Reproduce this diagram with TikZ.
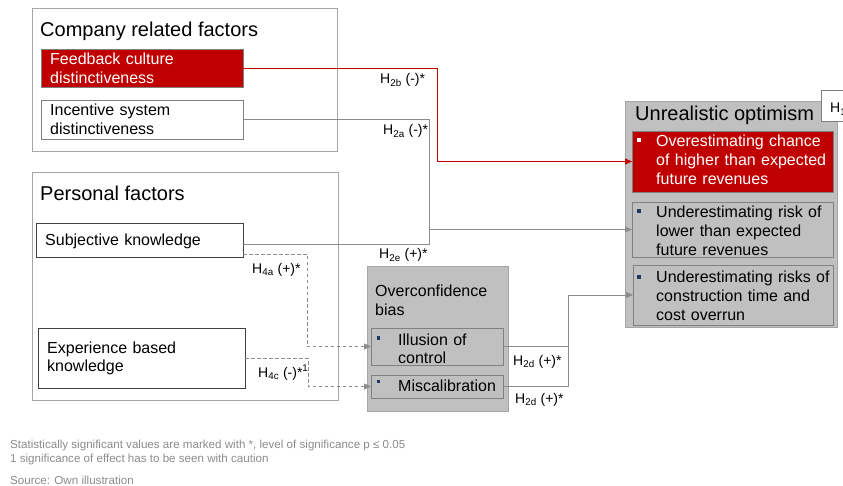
\documentclass[tikz,border=0pt]{standalone}
\usepackage{fontspec}
\setmainfont{Liberation Sans}
\usetikzlibrary{arrows.meta,calc}
\definecolor{redA}{HTML}{C00000}
\definecolor{gfill}{HTML}{C0C0C0}
\definecolor{gline}{HTML}{A6A6A6}
\definecolor{dline}{HTML}{808080}
\definecolor{kline}{HTML}{404040}
\definecolor{cline}{HTML}{8C8C8C}
\definecolor{navyA}{HTML}{1F3864}
\definecolor{ftxt}{HTML}{8C8C8C}
\begin{document}
\begin{tikzpicture}[x=1pt,y=-1pt,
  box/.style={anchor=north west, inner sep=0pt, outer sep=0pt},
  grp/.style={box, draw=gline, line width=0.9pt, fill=white},
  redbox/.style={box, draw=dline, line width=0.8pt, fill=redA},
  whbox/.style={box, draw=dline, line width=0.8pt, fill=white},
  kbox/.style={box, draw=kline, line width=0.9pt, fill=white},
  gbox/.style={box, draw=gline, line width=0.9pt, fill=gfill},
  subbox/.style={box, draw=dline, line width=0.8pt, fill=gfill},
  title/.style={anchor=base west, inner sep=0pt, font=\fontsize{20}{24}\selectfont},
  txt/.style={anchor=base west, inner sep=0pt, align=left, text width=200pt, font=\fontsize{16}{18.8}\selectfont},
  lab/.style={anchor=base west, inner sep=0pt, font=\fontsize{14}{16}\selectfont},
  foot/.style={anchor=base west, inner sep=0pt, text=ftxt, font=\fontsize{11.6}{13}\selectfont},
  conn/.style={draw=cline, line width=0.8pt, -{Triangle[length=7pt,width=6pt]}},
  plain/.style={draw=cline, line width=0.8pt},
  redconn/.style={draw=redA, line width=0.8pt, -{Triangle[length=7pt,width=6pt]}},
  dconn/.style={draw=cline, line width=0.8pt, dash pattern=on 3.5pt off 2.5pt, -{Triangle[length=7pt,width=6pt]}}
]
\useasboundingbox (0,0) rectangle (843,486);
\fill[white] (0,0) rectangle (843,486);

% Company related factors
\node[grp, minimum width=305pt, minimum height=143pt] (comp) at (32,8) {};
\node[title] (compt) at (40,37) {Company related factors};
\node[redbox, minimum width=202pt, minimum height=38pt] (fb) at (41,49) {};
\node[txt, text=white] (fbt) at (50,65) {Feedback culture\\distinctiveness};
\node[whbox, minimum width=202pt, minimum height=39pt] (inc) at (41,100) {};
\node[txt] (inct) at (50,115.5) {Incentive system\\distinctiveness};

% Personal factors
\node[grp, minimum width=306pt, minimum height=228pt] (pers) at (32,172) {};
\node[title] (perst) at (40,201) {Personal factors};
\node[kbox, minimum width=207pt, minimum height=34pt] (subj) at (36,223) {};
\node[txt] (subjt) at (45,246) {Subjective knowledge};
\node[kbox, minimum width=207pt, minimum height=60pt] (exp) at (38,328) {};
\node[txt] (expt) at (47,353) {Experience based\\knowledge};

% Overconfidence bias
\node[gbox, minimum width=141pt, minimum height=145pt] (oc) at (367,266) {};
\node[txt] (oct) at (375,297) {Overconfidence\\bias};
\node[subbox, minimum width=132pt, minimum height=37pt] (ill) at (371,328) {};
\fill[navyA] (376.5,336) rectangle ++(3.5,3.5);
\node[txt] (illt) at (398,345) {Illusion of\\control};
\node[subbox, minimum width=132pt, minimum height=23pt] (mis) at (371,375) {};
\fill[navyA] (376.5,379.5) rectangle ++(3.5,3.5);
\node[txt] (mist) at (398,391) {Miscalibration};

% Unrealistic optimism
\node[gbox, minimum width=212pt, minimum height=226pt] (uo) at (625,101) {};
\node[title] (uot) at (635,121) {Unrealistic optimism};
\node[redbox, minimum width=201pt, minimum height=61pt] (o1) at (632,131) {};
\fill[white] (637,138.5) rectangle ++(3.5,3.5);
\node[txt, text=white] (o1t) at (656,147) {Overestimating chance\\of higher than expected\\future revenues};
\node[subbox, minimum width=201pt, minimum height=55pt] (o2) at (632,202) {};
\fill[navyA] (637,209.5) rectangle ++(3.5,3.5);
\node[txt] (o2t) at (656,218) {Underestimating risk of\\lower than expected\\future revenues};
\node[subbox, minimum width=200pt, minimum height=60pt] (o3) at (633,265) {};
\fill[navyA] (637,275.5) rectangle ++(3.5,3.5);
\node[txt] (o3t) at (656,283) {Underestimating risks of\\construction time and\\cost overrun};

% partially visible label box at the right edge
\begin{scope}
\clip (0,0) rectangle (843,486);
\node[whbox, minimum width=30pt, minimum height=31pt] (hbox) at (821,90) {};
\node[lab] (hboxt) at (830,113) {H\textsubscript{1}};
\end{scope}

% connectors
\coordinate (jr) at (437,68);
\draw[redconn] (fb.east) -- (jr) |- (o1.west);
\coordinate (ja) at (429,229.5);
\draw[plain] (inc.east) -| (ja);
\draw[conn] ($(subj.east)+(0,4)$) -| (ja) -- (o2.west);
\coordinate (jd) at (568,295);
\draw[plain] (ill.east) -- (ill.east -| jd);
\draw[conn] (mis.east) -| (jd) -- (o3.west);
\coordinate (j4a) at (307,254);
\draw[dconn] ($(subj.south east)+(0,-3)$) -- (j4a) |- (ill.west);
\coordinate (j4c) at (308,358);
\draw[dconn] (exp.east) -- (j4c) |- (mis.west);

% labels
\node[lab] (l2b) at (380,84) {H\textsubscript{2b} (-)*};
\node[lab] (l2a) at (383,135) {H\textsubscript{2a} (-)*};
\node[lab] (l2e) at (379,259) {H\textsubscript{2e} (+)*};
\node[lab] (l4a) at (252,273) {H\textsubscript{4a} (+)*};
\node[lab] (l4c) at (258,377) {H\textsubscript{4c} (-)*\textsuperscript{1}};
\node[lab] (l2d1) at (513,365) {H\textsubscript{2d} (+)*};
\node[lab] (l2d2) at (515,403) {H\textsubscript{2d} (+)*};

% footnotes
\node[foot] (f1) at (10,448) {Statistically significant values are marked with *, level of significance p ≤ 0.05};
\node[foot] (f2) at (10,462) {1 significance of effect has to be seen with caution};
\node[foot] (f3) at (10,484) {Source: Own illustration};
\end{tikzpicture}
\end{document}
